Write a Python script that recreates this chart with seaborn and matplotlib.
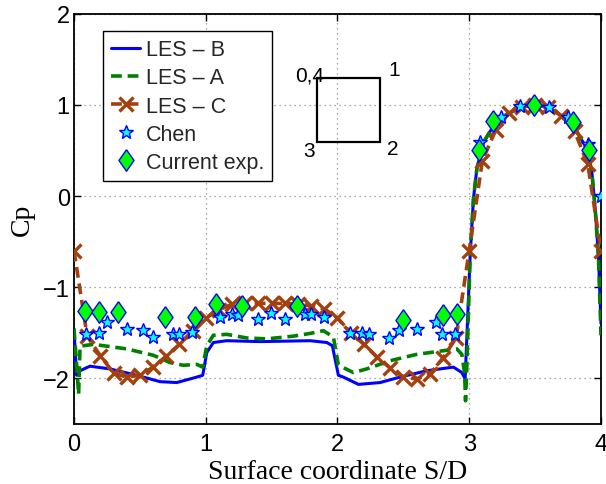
import matplotlib
matplotlib.use("Agg")
import matplotlib.pyplot as plt
import seaborn as sns
from matplotlib.lines import Line2D
from matplotlib.patches import Rectangle

# ---- pressure coefficient around the square cylinder (S/D from corner 0) ----
les_b_s = [0.0, 0.02, 0.046, 0.121, 0.273, 0.476, 0.653, 0.780, 0.932, 0.977,
           1.008, 1.058, 1.159, 1.412, 1.792, 1.919, 1.961,
           2.007, 2.045, 2.159, 2.323, 2.475, 2.678, 2.779, 2.880, 2.944, 2.969,
           3.007, 3.032, 3.058, 3.108, 3.184, 3.285, 3.412, 3.538, 3.665, 3.791,
           3.893, 3.931, 3.956, 3.981, 4.0]
les_b_cp = [-1.46, -1.97, -1.92, -1.87, -1.90, -1.97, -2.04, -2.05, -1.99, -1.97,
            -1.72, -1.61, -1.59, -1.60, -1.59, -1.61, -1.645,
            -1.97, -1.99, -2.07, -2.05, -1.99, -1.92, -1.90, -1.88, -1.94, -2.01,
            -0.66, -0.03, 0.30, 0.59, 0.77, 0.90, 0.985, 1.0, 0.92, 0.77,
            0.52, 0.26, -0.14, -0.66, -1.40]

les_a_s = [0.0, 0.02, 0.035, 0.046, 0.147, 0.400, 0.602, 0.729, 0.830, 0.932, 0.977,
           1.008, 1.058, 1.159, 1.311, 1.463, 1.665, 1.792, 1.893, 1.969,
           2.007, 2.121, 2.222, 2.399, 2.602, 2.804, 2.906, 2.944, 2.965, 2.972, 2.980,
           3.007, 3.032, 3.058, 3.108, 3.184, 3.285, 3.412, 3.538, 3.665, 3.791,
           3.893, 3.931, 3.956, 3.981, 4.0]
les_a_cp = [-1.46, -1.85, -2.18, -1.65, -1.63, -1.68, -1.75, -1.83, -1.86, -1.85, -1.88,
            -1.645, -1.53, -1.52, -1.56, -1.57, -1.54, -1.51, -1.48, -1.55,
            -1.86, -1.94, -1.90, -1.81, -1.74, -1.70, -1.68, -1.74, -1.95, -2.25, -1.95,
            -0.66, -0.03, 0.30, 0.59, 0.77, 0.90, 0.985, 1.0, 0.92, 0.77,
            0.52, 0.26, -0.14, -0.66, -1.53]

les_c_s = [0.0, 0.1, 0.2, 0.3, 0.4, 0.5, 0.6, 0.7, 0.8, 0.9,
           1.0, 1.1, 1.2, 1.3, 1.4, 1.5, 1.6, 1.7, 1.8, 1.9,
           2.0, 2.1, 2.2, 2.3, 2.4, 2.5, 2.6, 2.7, 2.8, 2.9,
           3.0, 3.1, 3.2, 3.3, 3.4, 3.5, 3.6, 3.7, 3.8, 3.9, 4.0]
les_c_cp = [-0.60, -1.54, -1.755, -1.945, -1.99, -1.97, -1.88, -1.76, -1.63, -1.48,
            -1.34, -1.25, -1.19, -1.18, -1.18, -1.18, -1.18, -1.19, -1.205, -1.24,
            -1.34, -1.50, -1.63, -1.77, -1.89, -1.99, -2.01, -1.96, -1.78, -1.56,
            -0.60, 0.39, 0.72, 0.91, 0.98, 1.00, 0.98, 0.88, 0.71, 0.35, -0.60]

chen_s = [0.091, 0.192, 0.253, 0.405, 0.526, 0.602, 0.749, 0.800, 0.898,
          1.109, 1.197, 1.243, 1.399, 1.494, 1.604, 1.754, 1.800, 1.898,
          2.096, 2.187, 2.242, 2.394, 2.468, 2.602, 2.746, 2.792, 2.893,
          3.083, 3.242, 3.387, 3.607, 3.753, 3.905, 4.0]
chen_cp = [-1.52, -1.51, -1.38, -1.46, -1.47, -1.55, -1.52, -1.52, -1.49,
           -1.33, -1.30, -1.31, -1.35, -1.29, -1.35, -1.30, -1.30, -1.33,
           -1.51, -1.51, -1.52, -1.56, -1.47, -1.46, -1.38, -1.52, -1.52,
           0.59, 0.87, 0.985, 0.975, 0.865, 0.57, 0.0]

exp_s = [0.084, 0.192, 0.332, 0.691, 0.916, 1.078, 1.273, 1.691,
         2.496, 2.800, 2.908, 3.075, 3.184, 3.493, 3.791, 3.908]
exp_cp = [-1.26, -1.27, -1.28, -1.33, -1.33, -1.19, -1.205, -1.21,
          -1.36, -1.31, -1.30, 0.51, 0.82, 1.0, 0.81, 0.51]

legend_labels = ["LES \u2013 B", "LES \u2013 A", "LES \u2013 C", "Chen", "Current exp."]
x_ticks = [0, 1, 2, 3, 4]
y_ticks = [-2, -1, 0, 1, 2]

BLUE = (0.0, 0.0, 1.0)
GREEN = (0.0, 0.5, 0.0)
BROWN = (0.64, 0.25, 0.05)
CYAN = (0.0, 1.0, 1.0)
LIME = (0.0, 1.0, 0.0)
DIAMOND = [(0, 1), (0.7, 0), (0, -1), (-0.7, 0), (0, 1)]

sns.set_theme(style="white")
plt.rcParams["font.family"] = ["Liberation Sans", "DejaVu Sans"]

fig = plt.figure(figsize=(6.06, 4.85), dpi=100)
ax = fig.add_axes([0.1221, 0.1247, 0.8696, 0.8444])

dash = (0, (3.0, 1.6))
sns.lineplot(x=les_b_s, y=les_b_cp, sort=False, estimator=None, ax=ax,
             color=BLUE, linewidth=2.2, zorder=3)
sns.lineplot(x=les_a_s, y=les_a_cp, sort=False, estimator=None, ax=ax,
             color=GREEN, linewidth=2.6, linestyle=dash, zorder=3)
sns.lineplot(x=les_c_s, y=les_c_cp, sort=False, estimator=None, ax=ax,
             color=BROWN, linewidth=2.6, linestyle=dash, marker="x",
             markersize=10, markeredgewidth=2.4, markeredgecolor=BROWN, zorder=4)
sns.lineplot(x=chen_s, y=chen_cp, sort=False, estimator=None, ax=ax,
             linestyle="none", marker="*", markersize=10.5, color=BLUE,
             markerfacecolor=CYAN, markeredgecolor=BLUE, markeredgewidth=1.0, zorder=5)
sns.lineplot(x=exp_s, y=exp_cp, sort=False, estimator=None, ax=ax,
             linestyle="none", marker=DIAMOND, markersize=15.5, color=BLUE,
             markerfacecolor=LIME, markeredgecolor=BLUE, markeredgewidth=1.0, zorder=6)

# sketch of the cylinder with its corner numbering
ax.add_patch(Rectangle((1.843, 0.597), 0.480, 0.696, fill=False,
                       edgecolor="black", linewidth=1.6, zorder=4))
for txt, tx, ty in [("0,4", 1.785, 1.33), ("1", 2.427, 1.385),
                    ("2", 2.422, 0.527), ("3", 1.782, 0.505)]:
    ax.text(tx, ty, txt, fontsize=15, ha="center", va="center", color="black")

ax.set_xlim(0, 4)
ax.set_ylim(-2.5, 2)
ax.set_xticks(x_ticks)
ax.set_yticks(y_ticks)
ax.set_xticklabels([str(v) for v in x_ticks])
ax.set_yticklabels([str(v).replace("-", "\u2212") for v in y_ticks])
ax.tick_params(direction="in", length=5, width=1, labelsize=17, colors="black",
               top=True, right=True, bottom=True, left=True)
ax.tick_params(axis="x", pad=7)
ax.tick_params(axis="y", pad=3)
ax.grid(True, linestyle=(0, (1, 3)), color="0.55", linewidth=0.9)
ax.set_axisbelow(True)
for sp in ax.spines.values():
    sp.set_visible(True)
    sp.set_color("black")
    sp.set_linewidth(1.3)

ax.set_xlabel("Surface coordinate S/D", family=["Liberation Serif", "DejaVu Serif"],
              fontsize=20, color="black")
ax.set_ylabel("Cp", family=["Liberation Serif", "DejaVu Serif"], fontsize=20,
              color="black")
ax.xaxis.set_label_coords(0.5, -0.087)
ax.yaxis.set_label_coords(-0.074, 0.5)

handles = [
    Line2D([], [], color=BLUE, linewidth=2.2),
    Line2D([], [], color=GREEN, linewidth=2.6, linestyle=dash),
    Line2D([], [], color=BROWN, linewidth=2.6, linestyle=dash, marker="x",
           markersize=10, markeredgewidth=2.4),
    Line2D([], [], linestyle="none", marker="*", markersize=10.5,
           markerfacecolor=CYAN, markeredgecolor=BLUE, markeredgewidth=1.0),
    Line2D([], [], linestyle="none", marker=DIAMOND, markersize=15.5,
           markerfacecolor=LIME, markeredgecolor=BLUE, markeredgewidth=1.0),
]
leg = ax.legend(handles, legend_labels, loc="upper left",
                bbox_to_anchor=(0.055, 0.958), borderaxespad=0, fontsize=15.5,
                frameon=True, fancybox=False, framealpha=1, edgecolor="black",
                handlelength=1.35, handletextpad=0.25, labelspacing=0.33,
                borderpad=0.38, numpoints=1)
leg.get_frame().set_linewidth(1.0)
leg.set_zorder(10)

fig.savefig("out.png", dpi=100)
